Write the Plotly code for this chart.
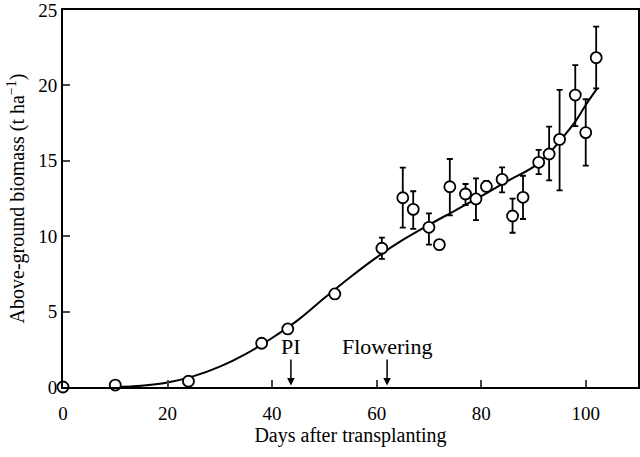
import plotly.graph_objects as go

# Observed data
days = [0, 10, 24, 38, 43, 52, 61, 65, 67, 70, 72, 74, 77, 79, 81, 84, 86, 88, 91, 93, 95, 98, 100, 102]
biomass = [0, 0.13, 0.38, 2.9, 3.85, 6.17, 9.2, 12.55, 11.78, 10.59, 9.44, 13.28, 12.8, 12.47,
           13.3, 13.77, 11.34, 12.58, 14.9, 15.45, 16.42, 19.36, 16.87, 21.84]
err_plus = [0, 0, 0, 0, 0, 0, 0.7, 2.0, 1.2, 0.93, 0, 1.84, 0.66, 1.37, 0.36, 0.8, 1.15, 1.43,
            0.82, 1.81, 3.28, 1.99, 2.21, 2.06]
err_minus = [0, 0, 0, 0, 0, 0, 0.7, 1.98, 1.3, 1.15, 0, 1.9, 0.73, 1.4, 0.3, 0.86, 1.11, 1.44,
             0.78, 1.75, 3.38, 2.06, 2.19, 2.04]

# Fitted curve
curve_x = [10, 15, 20, 25, 30, 35, 40, 45, 50, 55, 60, 65, 70, 75, 80, 85, 90, 93, 95, 98, 100, 102.2]
curve_y = [0.0, 0.08, 0.3, 0.72, 1.35, 2.2, 3.25, 4.45, 5.9, 7.3, 8.6, 9.75, 10.75, 11.7, 12.65,
           13.65, 14.6, 15.5, 16.3, 17.6, 18.7, 19.8]

# Stage markers
stage_labels = ["PI", "Flowering"]
stage_days = [43.6, 62]

x_ticks = [0, 20, 40, 60, 80, 100]
y_ticks = [0, 5, 10, 15, 20, 25]

FONT = "Liberation Serif"

fig = go.Figure()
fig.add_trace(go.Scatter(x=curve_x, y=curve_y, mode="lines",
                         line=dict(color="black", width=2, shape="spline", smoothing=1.0),
                         hoverinfo="skip", showlegend=False))
fig.add_trace(go.Scatter(
    x=days, y=biomass, mode="markers",
    marker=dict(symbol="circle", size=11, color="white", line=dict(color="black", width=1.8)),
    error_y=dict(type="data", symmetric=False, array=err_plus, arrayminus=err_minus,
                 color="black", thickness=1.8, width=3),
    cliponaxis=False, showlegend=False))

for lab, d in zip(stage_labels, stage_days):
    fig.add_annotation(x=d, y=0.1, ax=0, ay=-39, xref="x", yref="y", text=lab,
                       showarrow=True, arrowhead=2, arrowsize=1, arrowwidth=1.5, arrowcolor="black",
                       borderpad=0, font=dict(family=FONT, size=22, color="black"))

fig.update_layout(
    width=640, height=457,
    margin=dict(l=63, r=2, t=10, b=70),
    plot_bgcolor="white", paper_bgcolor="white",
    font=dict(family=FONT, size=17, color="black"),
    xaxis=dict(range=[0, 110], tickvals=x_ticks, ticks="inside", ticklen=7, tickwidth=1.5,
               tickfont=dict(size=19), ticklabelstandoff=8, automargin=False,
               ticklabeloverflow="allow",
               showline=True, linecolor="black", linewidth=2, mirror=True, showgrid=False,
               zeroline=False, title=dict(text="Days after transplanting", font=dict(size=20), standoff=2)),
    yaxis=dict(range=[0, 25], tickvals=y_ticks, ticks="inside", ticklen=7, tickwidth=1.5,
               tickfont=dict(size=19), automargin=False, ticklabeloverflow="allow",
               showline=True, linecolor="black", linewidth=2, mirror=True, showgrid=False,
               zeroline=False, title=dict(text="Above-ground biomass (t ha<sup>−1</sup>)",
                                          font=dict(size=20), standoff=8)),
)

fig.write_html("out.html", config={"displayModeBar": False},
               post_script="document.body.style.margin='0';")
